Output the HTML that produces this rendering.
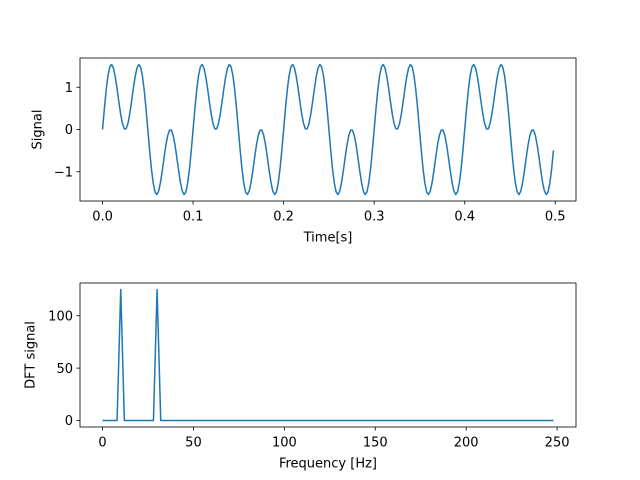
<!DOCTYPE html>
<html><head><meta charset="utf-8"><style>
body{margin:0;background:#fff}
svg{display:block;font-family:"DejaVu Sans","Liberation Sans",sans-serif}
</style></head><body>
<svg id="c" width="640" height="480" viewBox="0 0 640 480"></svg>
<script>
// Signal: sum of sine components, sampled at 500 Hz for 250 samples
const sampleRate = 500;
const sampleCount = 250;
const componentFreqs = [10, 30];
const componentAmps = [1, 1];
const timeTicks = [0.0, 0.1, 0.2, 0.3, 0.4, 0.5];
const timeTickLabels = ["0.0","0.1","0.2","0.3","0.4","0.5"];
const signalTicks = [-1, 0, 1];
const signalTickLabels = ["\u22121","0","1"];
// DFT magnitude, bins at 0,2,4,...,248 Hz
const dftFreqs = [0,2,4,6,8,10,12,14,16,18,20,22,24,26,28,30,32,34,36,38,40,42,44,46,48,50,52,54,56,58,60,62,64,66,68,70,72,74,76,78,80,82,84,86,88,90,92,94,96,98,100,102,104,106,108,110,112,114,116,118,120,122,124,126,128,130,132,134,136,138,140,142,144,146,148,150,152,154,156,158,160,162,164,166,168,170,172,174,176,178,180,182,184,186,188,190,192,194,196,198,200,202,204,206,208,210,212,214,216,218,220,222,224,226,228,230,232,234,236,238,240,242,244,246,248];
const dftValues = [0,0,0,0,0,125,0,0,0,0,0,0,0,0,0,125,0,0,0,0,0,0,0,0,0,0,0,0,0,0,0,0,0,0,0,0,0,0,0,0,0,0,0,0,0,0,0,0,0,0,0,0,0,0,0,0,0,0,0,0,0,0,0,0,0,0,0,0,0,0,0,0,0,0,0,0,0,0,0,0,0,0,0,0,0,0,0,0,0,0,0,0,0,0,0,0,0,0,0,0,0,0,0,0,0,0,0,0,0,0,0,0,0,0,0,0,0,0,0,0,0,0,0,0,0];
const freqTicks = [0,50,100,150,200,250];
const freqTickLabels = ["0","50","100","150","200","250"];
const dftTicks = [0,50,100];
const dftTickLabels = ["0","50","100"];

const svg = document.getElementById('c');
const NS = 'http://www.w3.org/2000/svg';
const FS = 13;
function mk(tag, attrs, parent){const e=document.createElementNS(NS,tag);for(const k in attrs)e.setAttribute(k,attrs[k]);(parent||svg).appendChild(e);return e;}

function drawAxes(box, xs, ys, xTicks, xLabels, yTicks, yLabels, xTitle, yTitle, prefix){
  const xmin=Math.min(...xs), xmax=Math.max(...xs), ymin=Math.min(...ys), ymax=Math.max(...ys);
  const xm=(xmax-xmin)*0.05, ym=(ymax-ymin)*0.05;
  const X=v=>box.x+(v-(xmin-xm))/((xmax+xm)-(xmin-xm))*box.w;
  const Y=v=>box.y+box.h-(v-(ymin-ym))/((ymax+ym)-(ymin-ym))*box.h;
  const g=mk('g',{});
  
  
  let d='';
  xs.forEach((v,i)=>{d+=(i?'L':'M')+X(v).toFixed(2)+' '+Y(ys[i]).toFixed(2);});
  const p=mk('path',{d:d,fill:'none',stroke:'#1f77b4','stroke-width':1.5,'stroke-linejoin':'round'},g);
  
  
  const fr=mk('rect',{x:box.x,y:box.y,width:box.w,height:box.h,fill:'none',stroke:'#000','stroke-width':0.8},g);
  
  
  xTicks.forEach((t,i)=>{
    const x=X(t);
    mk('line',{x1:x,x2:x,y1:box.y+box.h,y2:box.y+box.h+3.5,stroke:'#000','stroke-width':0.8},g);
    const tx=mk('text',{x:x,y:box.y+box.h+19.5,'text-anchor':'middle','font-size':FS},g);
    tx.textContent=xLabels[i];
    
    
  });
  yTicks.forEach((t,i)=>{
    const y=Y(t);
    mk('line',{x1:box.x-3.5,x2:box.x,y1:y,y2:y,stroke:'#000','stroke-width':0.8},g);
    const tx=mk('text',{x:box.x-7,y:y+4.7,'text-anchor':'end','font-size':FS},g);
    tx.textContent=yLabels[i];
    
    
  });
  const xt=mk('text',{x:box.x+box.w/2,y:box.y+box.h+40.5,'text-anchor':'middle','font-size':FS},g);
  xt.textContent=xTitle;
  
  
  const yt=mk('text',{x:0,y:0,'text-anchor':'middle','font-size':FS,transform:`translate(${box.ytx},${box.y+box.h/2}) rotate(-90)`},g);
  yt.textContent=yTitle;
  
  
}

const times=[], signal=[];
for(let n=0;n<sampleCount;n++){
  const t=n/sampleRate; times.push(t);
  let s=0; componentFreqs.forEach((f,k)=>{s+=componentAmps[k]*Math.sin(2*Math.PI*f*t);});
  signal.push(s);
}
drawAxes({x:80,y:58,w:496,h:143,ytx:41.5}, times, signal, timeTicks, timeTickLabels, signalTicks, signalTickLabels, 'Time[s]', 'Signal', 'signal');
drawAxes({x:80,y:283,w:496,h:144,ytx:34.5}, dftFreqs, dftValues, freqTicks, freqTickLabels, dftTicks, dftTickLabels, 'Frequency [Hz]', 'DFT signal', 'dft');
</script>
</body></html>
